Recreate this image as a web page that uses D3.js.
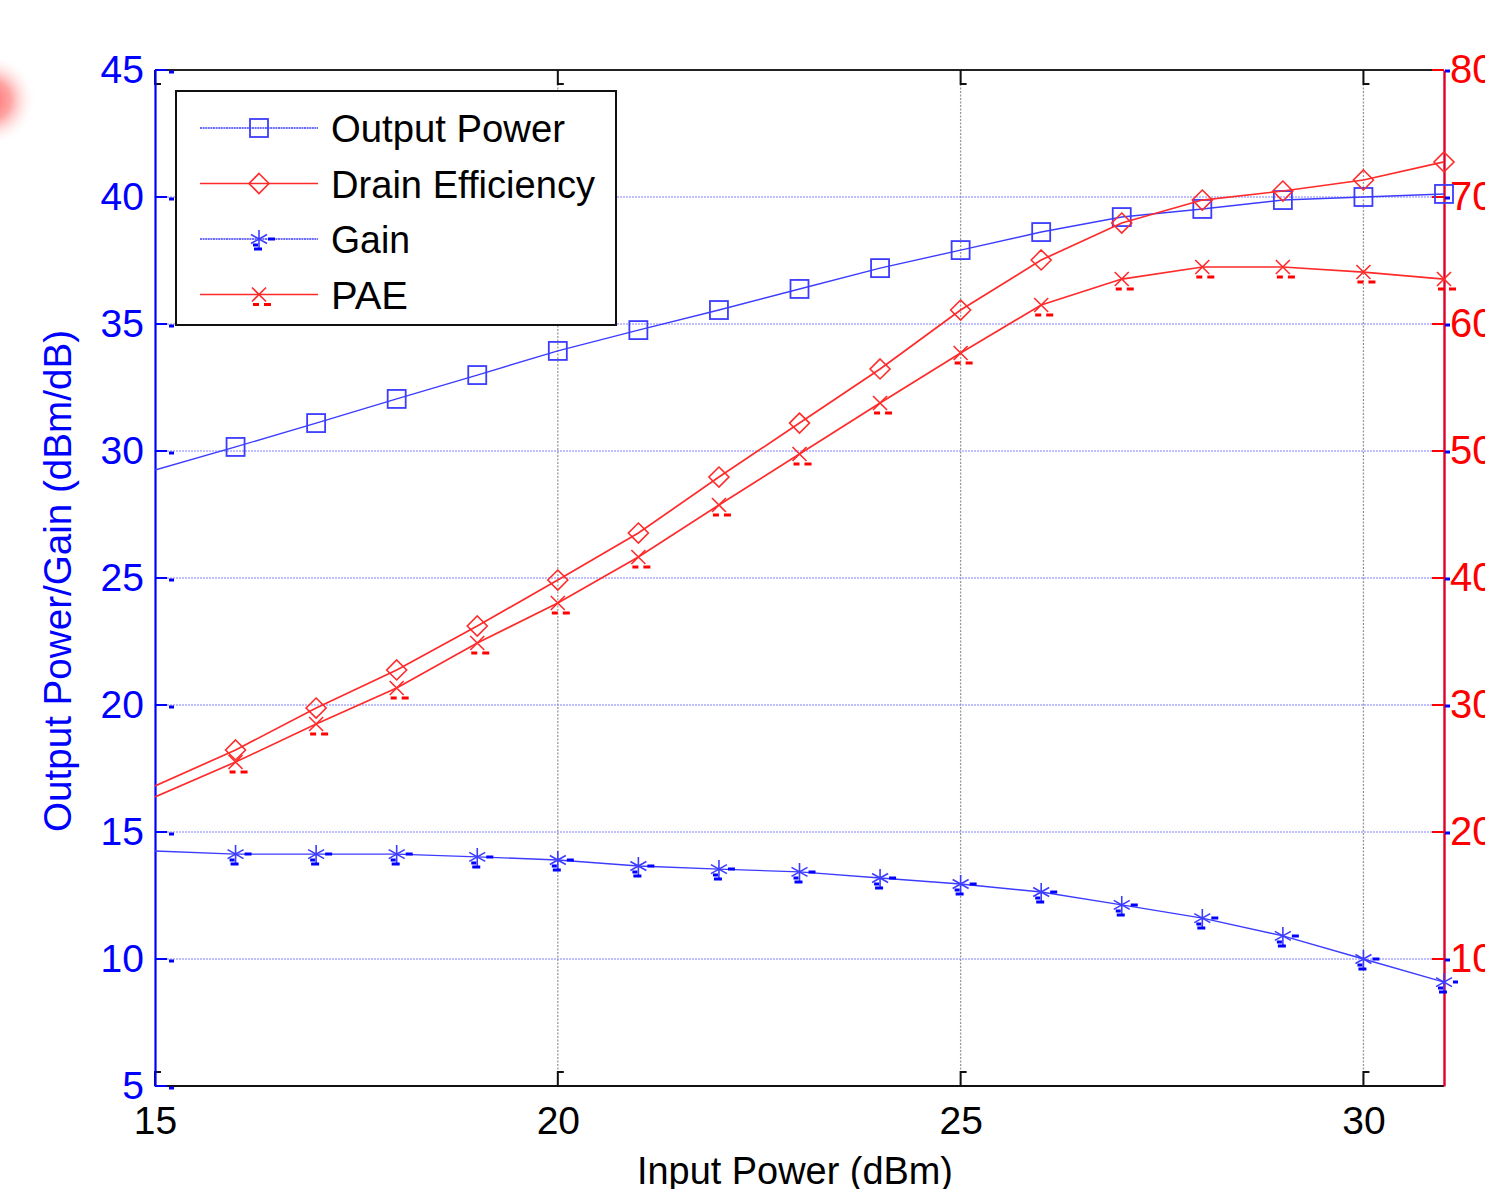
<!DOCTYPE html>
<html><head><meta charset="utf-8">
<script src="https://cdn.jsdelivr.net/npm/d3@7"></script>
<style>html,body{margin:0;padding:0;background:#fff;overflow:hidden}svg{display:block;font-family:"Liberation Sans",Arial,sans-serif}</style>
</head><body>
<script>
const inputPower = [15,16,17,18,19,20,21,22,23,24,25,26,27,28,29,30,31];
const outputPower = [29.25,30.16,31.10,32.05,32.99,33.94,34.76,35.55,36.38,37.20,37.91,38.62,39.21,39.53,39.88,40.00,40.12];
const gain = [14.25,14.13,14.13,14.13,14.02,13.90,13.66,13.54,13.43,13.19,12.95,12.64,12.13,11.61,10.91,10.00,9.09];
const drainEff = [23.62,26.46,29.76,32.76,36.22,39.84,43.54,47.95,52.20,56.46,61.10,65.04,67.95,69.76,70.47,71.34,72.76];
const pae = [22.76,25.51,28.50,31.34,34.88,38.03,41.65,45.75,49.76,53.78,57.72,61.50,63.54,64.49,64.49,64.09,63.54];
const xTicks = [15,20,25,30];
const leftTicks = [5,10,15,20,25,30,35,40,45];
const rightTicks = [10,20,30,40,50,60,70,80];
const legendLabels = ["Output Power","Drain Efficiency","Gain","PAE"];

const W=1485,H=1189;
const L=155,R=1444,T=70,B=1086;
const FONT="Liberation Sans, Arial, sans-serif";
const svg=d3.select("body").append("svg").attr("width",W).attr("height",H);
const x=d3.scaleLinear().domain([15,31]).range([L,R]);
const yL=d3.scaleLinear().domain([5,45]).range([B,T]);
const yR=d3.scaleLinear().domain([0,80]).range([B,T]);

// stray blurred red spot at top-left
const defs=svg.append("defs");
const rg=defs.append("radialGradient").attr("id","blob");
rg.append("stop").attr("offset","0%").attr("stop-color","#ff4c4c").attr("stop-opacity",0.85);
rg.append("stop").attr("offset","45%").attr("stop-color","#ff6a6a").attr("stop-opacity",0.6);
rg.append("stop").attr("offset","100%").attr("stop-color","#ffffff").attr("stop-opacity",0);
svg.append("circle").attr("cx",-10).attr("cy",100).attr("r",46).attr("fill","url(#blob)");
defs.append("clipPath").attr("id","clip").append("rect").attr("x",L).attr("y",T-12).attr("width",R-L+14).attr("height",B-T+24);

// grid
const g=svg.append("g");
g.selectAll(".vg").data(xTicks.filter(d=>d>15)).join("line")
 .attr("x1",d=>x(d)).attr("x2",d=>x(d)).attr("y1",T).attr("y2",B)
 .attr("stroke","#999").attr("stroke-width",1.3).attr("stroke-dasharray","2,1.5");
g.selectAll(".hg").data(leftTicks.filter(d=>d>5&&d<45)).join("line")
 .attr("x1",L).attr("x2",R).attr("y1",d=>yL(d)).attr("y2",d=>yL(d))
 .attr("stroke","#8080ff").attr("stroke-width",1.2).attr("stroke-dasharray","2,1");

// axes frame
svg.append("line").attr("x1",L).attr("x2",R).attr("y1",T).attr("y2",T).attr("stroke","#222").attr("stroke-width",2);
svg.append("line").attr("x1",L).attr("x2",R).attr("y1",B).attr("y2",B).attr("stroke","#111").attr("stroke-width",2.2);

// x axis
const xAxis=svg.append("g").attr("transform",`translate(0,${B})`)
 .call(d3.axisBottom(x).tickValues(xTicks).tickSize(0).tickPadding(20).tickFormat(d3.format("d")));
xAxis.select(".domain").remove();
xAxis.selectAll("text").attr("font-size",39).attr("fill","#000").attr("font-family",FONT);
svg.selectAll(".xt").data(xTicks).join("path")
 .attr("d",d=>`M${x(d)},${B}V${B-14}h6M${x(d)},${T}V${T+14}h6`).attr("fill","none").attr("stroke","#111").attr("stroke-width",2);

// left axis
const lAxis=svg.append("g").attr("transform",`translate(${L},0)`)
 .call(d3.axisLeft(yL).tickValues(leftTicks).tickSize(0).tickPadding(11).tickFormat(d3.format("d")));
lAxis.select(".domain").attr("stroke","#0000ff").attr("stroke-width",2.2);
lAxis.selectAll("text").attr("font-size",39).attr("fill","#0000ff").attr("font-family",FONT);
svg.selectAll(".lt").data(leftTicks).join("line")
 .attr("x1",L).attr("x2",L+12).attr("y1",d=>yL(d)).attr("y2",d=>yL(d)).attr("stroke","#0000ff").attr("stroke-width",2);
svg.selectAll(".lt2").data(leftTicks).join("line")
 .attr("x1",L+14).attr("x2",L+19).attr("y1",d=>yL(d)+2).attr("y2",d=>yL(d)+2).attr("stroke","#0000ff").attr("stroke-width",3);

// right axis
const rAxis=svg.append("g").attr("transform",`translate(${R},0)`)
 .call(d3.axisRight(yR).tickValues(rightTicks).tickSize(0).tickPadding(6).tickFormat(d3.format("d")));
rAxis.select(".domain").attr("stroke","#e0002a").attr("stroke-width",2.4);
rAxis.selectAll("text").attr("font-size",40).attr("fill","#ff0000").attr("font-family",FONT);
svg.selectAll(".rt").data(rightTicks).join("line")
 .attr("x1",R-12).attr("x2",R).attr("y1",d=>yR(d)).attr("y2",d=>yR(d)).attr("stroke","#ff0000").attr("stroke-width",2);
svg.selectAll(".rt2").data(rightTicks).join("line")
 .attr("x1",R+1).attr("x2",R+6).attr("y1",d=>yR(d)+1).attr("y2",d=>yR(d)+1).attr("stroke","#0000ff").attr("stroke-width",3);

// axis titles
svg.append("text").attr("transform",`translate(71,581) rotate(-90)`).attr("text-anchor","middle")
 .attr("font-size",38).attr("fill","#0000ff").attr("textLength",502).attr("lengthAdjust","spacingAndGlyphs").text("Output Power/Gain (dBm/dB)");
svg.append("text").attr("x",795).attr("y",1184).attr("text-anchor","middle")
 .attr("font-size",38).attr("fill","#000").attr("textLength",316).attr("lengthAdjust","spacingAndGlyphs").text("Input Power (dBm)");

// markers
const BLUE="#3c3cff", RED="#ff2a2a";
function marker(sel,type,col){
  if(type==="square") sel.append("rect").attr("x",-9).attr("y",-9).attr("width",18).attr("height",18).attr("fill","none").attr("stroke",col).attr("stroke-width",1.8);
  else if(type==="diamond") sel.append("path").attr("d","M0,-10L10,0L0,10L-10,0Z").attr("fill","none").attr("stroke",col).attr("stroke-width",1.6);
  else if(type==="star"){
    sel.append("path").attr("d","M0,-9V9M-8,-4.5L8,4.5M-8,4.5L8,-4.5").attr("fill","none").attr("stroke",col).attr("stroke-width",1.6);
    sel.append("path").attr("d","M9,0h7M-6,6h5M-5,10h8").attr("fill","none").attr("stroke","#0000ff").attr("stroke-width",3);
  } else if(type==="x"){
    sel.append("path").attr("d","M-7,-7L7,7M-7,7L7,-7").attr("fill","none").attr("stroke",col).attr("stroke-width",1.6);
    sel.append("path").attr("d","M-6,10h6M5,10h7").attr("fill","none").attr("stroke","#ff0000").attr("stroke-width",3);
  }
}
const series=[
 {name:legendLabels[0],vals:outputPower,y:yL,col:BLUE,m:"square",w:1.4,tl:234},
 {name:legendLabels[1],vals:drainEff,y:yR,col:RED,m:"diamond",w:1.7,tl:264},
 {name:legendLabels[2],vals:gain,y:yL,col:BLUE,m:"star",w:1.4,tl:79},
 {name:legendLabels[3],vals:pae,y:yR,col:RED,m:"x",w:1.7,tl:77}
];
const plot=svg.append("g").attr("clip-path","url(#clip)");
series.forEach(s=>{
  const pts=inputPower.map((xv,i)=>[xv,s.vals[i]]);
  plot.append("path").attr("d",d3.line().x(d=>x(d[0])).y(d=>s.y(d[1]))(pts))
   .attr("fill","none").attr("stroke",s.col).attr("stroke-width",s.w);
  plot.selectAll(null).data(pts.filter(d=>d[0]>15)).join("g")
   .attr("transform",d=>`translate(${x(d[0])},${s.y(d[1])})`)
   .each(function(){marker(d3.select(this),s.m,s.col);});
});

// legend
const lg=svg.append("g");
lg.append("rect").attr("x",176).attr("y",91).attr("width",440).attr("height",234).attr("fill","#fff").attr("stroke","#111").attr("stroke-width",2);
series.forEach((s,i)=>{
  const yy=128+i*55.5;
  lg.append("line").attr("x1",200).attr("x2",318).attr("y1",yy).attr("y2",yy).attr("stroke",s.col).attr("stroke-width",s.w).attr("stroke-dasharray",s.col===BLUE?"2,0.6":null);
  marker(lg.append("g").attr("transform",`translate(259,${yy})`),s.m,s.col);
  lg.append("text").attr("x",331).attr("y",yy+14).attr("font-size",38).attr("fill","#000")
   .attr("textLength",s.tl).attr("lengthAdjust","spacingAndGlyphs").text(s.name);
});
</script>
</body></html>
